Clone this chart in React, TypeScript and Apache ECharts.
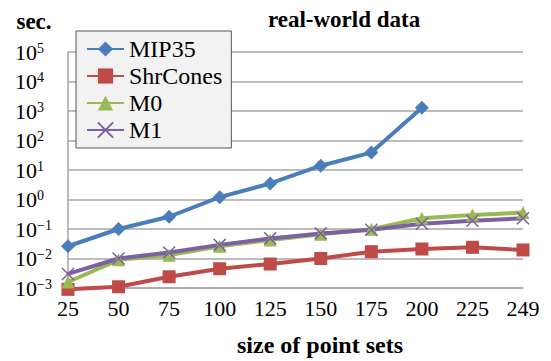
import React, { useEffect, useRef } from "react";
import * as echarts from "echarts";

const categories = ["25", "50", "75", "100", "125", "150", "175", "200", "225", "249"];
const mip35: (number | string)[] = [0.026, 0.1, 0.26, 1.2, 3.5, 14, 39, 1300, "-", "-"];
const shrCones = [0.0009, 0.0011, 0.0024, 0.0045, 0.0065, 0.01, 0.017, 0.021, 0.024, 0.0195];
const m0 = [0.0016, 0.009, 0.013, 0.026, 0.042, 0.066, 0.098, 0.23, 0.3, 0.36];
const m1 = [0.003, 0.01, 0.016, 0.029, 0.048, 0.071, 0.095, 0.15, 0.19, 0.23];

const BLUE = "#4a7ebb";
const RED = "#be4b48";
const GREEN = "#98b954";
const PURPLE = "#7d60a0";
const SERIF = "Liberation Serif";

export default function App() {
  const ref = useRef<HTMLDivElement>(null);
  useEffect(() => {
    if (!ref.current) return;
    const chart = echarts.init(ref.current, null, { renderer: "svg" });
    const mk = (name: string, data: any[], color: string, symbol: string, size: number) => ({
      name,
      type: "line",
      data,
      symbol,
      symbolSize: size,
      clip: false,
      lineStyle: { color, width: 4 },
      itemStyle: { color },
      emphasis: { disabled: true },
    });
    chart.setOption({
      animation: false,
      backgroundColor: "#ffffff",
      textStyle: { fontFamily: SERIF },
      grid: { left: 68, right: 28, top: 52, bottom: 73 },
      legend: {
        orient: "vertical",
        left: 76,
        top: 31,
        backgroundColor: "#f2f2f2",
        borderColor: "#595959",
        borderWidth: 1,
        padding: [6, 9, 6, 10],
        itemWidth: 37,
        itemHeight: 19,
        itemGap: 3,
        itemTextGap: 2,
        textStyle: { fontFamily: SERIF, fontSize: 24, color: "#000" },
        data: ["MIP35", "ShrCones", "M0", "M1"],
      },
      xAxis: {
        type: "category",
        data: categories,
        boundaryGap: false,
        axisLine: { show: true, lineStyle: { color: "#a6a6a6", width: 1.5 } },
        axisTick: { show: false },
        axisLabel: { fontFamily: SERIF, fontSize: 22, color: "#000", margin: 9 },
      },
      yAxis: {
        type: "log",
        logBase: 10,
        min: 0.001,
        max: 100000,
        axisLine: { show: true, lineStyle: { color: "#a6a6a6", width: 1.5 } },
        axisTick: { show: false },
        splitLine: { show: true, lineStyle: { color: "#a6a6a6", width: 1.5 } },
        axisLabel: {
          align: "left",
          margin: 53,
          formatter: (v: number) => {
            const e = Math.round(Math.log10(v));
            return `{b|10}{s|${e < 0 ? "\u2212" + -e : e}}`;
          },
          rich: {
            b: { fontFamily: SERIF, fontSize: 22, color: "#000", lineHeight: 22 },
            s: { fontFamily: SERIF, fontSize: 14, color: "#000", lineHeight: 14, verticalAlign: "top" },
          },
        },
      },
      graphic: [
        { type: "text", x: 34, y: 21, style: { text: "sec.", font: `bold 23px ${SERIF}`, fill: "#000", textAlign: "center", textVerticalAlign: "middle" } },
        { type: "text", x: 344, y: 19, style: { text: "real-world data", font: `bold 23px ${SERIF}`, fill: "#000", textAlign: "center", textVerticalAlign: "middle" } },
        { type: "text", x: 320, y: 345, style: { text: "size of point sets", font: `bold 24px ${SERIF}`, fill: "#000", textAlign: "center", textVerticalAlign: "middle" } },
      ],
      series: [
        mk("MIP35", mip35, BLUE, "diamond", 14),
        mk("ShrCones", shrCones, RED, "rect", 13),
        mk("M0", m0, GREEN, "triangle", 13),
        {
          ...mk("M1", m1, PURPLE, "path://M0,0L10,10M10,0L0,10", 12),
          itemStyle: { color: PURPLE, borderColor: PURPLE, borderWidth: 1.5 },
        },
      ],
    });
    return () => chart.dispose();
  }, []);
  return <div ref={ref} style={{ position: "fixed", left: 0, top: 0, width: 551, height: 361 }} />;
}
